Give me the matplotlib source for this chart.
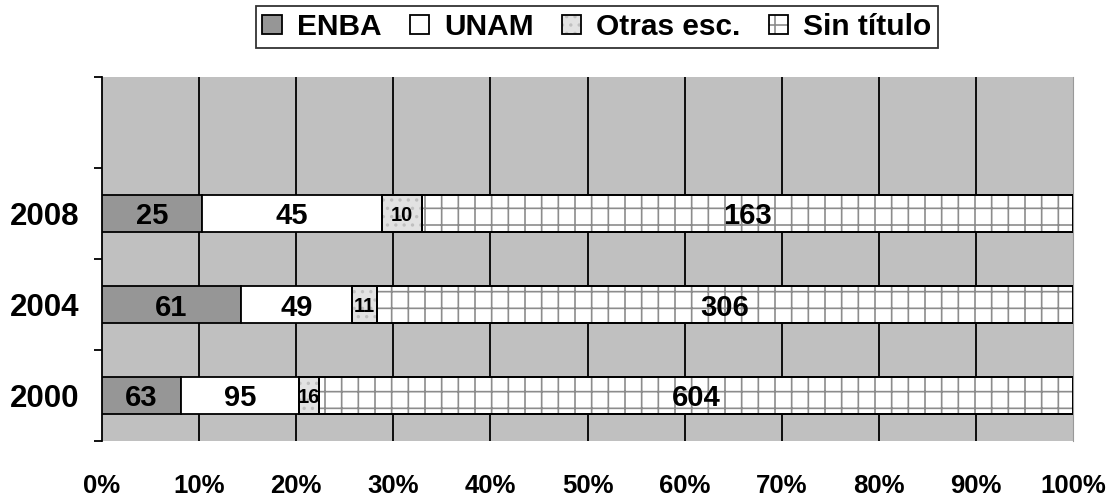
import numpy as np
import matplotlib
matplotlib.use("Agg")
import matplotlib.pyplot as plt

plt.rcParams['font.family'] = ['Liberation Sans', 'DejaVu Sans']
plt.rcParams['font.weight'] = 'bold'
plt.rcParams['hatch.linewidth'] = 1.2

# Data
years = ["2000", "2004", "2008"]
series = ["ENBA", "UNAM", "Otras esc.", "Sin título"]
enba = [63, 61, 25]
unam = [95, 49, 45]
otras = [16, 11, 10]
sin_titulo = [604, 306, 163]
x_ticks = ["0%", "10%", "20%", "30%", "40%", "50%", "60%", "70%", "80%", "90%", "100%"]

values = np.array([enba, unam, otras, sin_titulo], dtype=float)
totals = values.sum(axis=0)
shares = values / totals

faces = ["#969696", "white", "#e2e2e2", "white"]
hatches = [None, None, "..", "+"]
hatch_cols = [None, None, "#c0c0c0", "#8c8c8c"]
label_sizes = [21, 21, 14.5, 21]

fig = plt.figure(figsize=(11.15, 4.99), dpi=100)
ax = fig.add_axes([102 / 1115, 1 - 441 / 499, (1073 - 102) / 1115, (441 - 77) / 499])
ax.set_facecolor("#c0c0c0")

ypos = np.arange(len(years))
left = np.zeros(len(years))
handles = []
for i, name in enumerate(series):
    bars = ax.barh(ypos, shares[i], left=left, height=0.4, color=faces[i],
                   edgecolor="black", linewidth=1.3, label=name, zorder=3)
    if hatches[i]:
        for b in bars:
            b.set_hatch(hatches[i])
            b._hatch_color = matplotlib.colors.to_rgba(hatch_cols[i])
        # redraw edge on top of hatch
        ax.barh(ypos, shares[i], left=left, height=0.4, color="none",
                edgecolor="black", linewidth=1.3, zorder=4)
    handles.append(bars)
    for j in range(len(years)):
        ax.text(left[j] + shares[i][j] / 2, ypos[j], str(int(values[i][j])),
                ha="center", va="center_baseline", fontsize=label_sizes[i],
                fontweight="bold", zorder=5)
    left += shares[i]

ax.set_xlim(0, 1)
ax.set_ylim(-0.5, 3.5)
for gx in np.arange(0.1, 1.0, 0.1):
    ax.axvline(gx, color="black", linewidth=1.3, zorder=1)

ax.set_xticks(np.linspace(0, 1, 11))
ax.set_xticklabels(x_ticks, fontsize=18.5, fontweight="bold")
ax.tick_params(axis="x", length=0, pad=24)

ax.set_yticks(ypos)
ax.set_yticklabels(years, fontsize=22.5, fontweight="bold")
ax.tick_params(axis="y", which="major", length=0, pad=16)
ax.set_yticks(np.arange(-0.5, 4.0, 1.0), minor=True)
ax.tick_params(axis="y", which="minor", length=6, width=1.3, direction="out")

ax.spines["top"].set_visible(False)
ax.spines["bottom"].set_visible(False)
ax.spines["right"].set_color("#999999")
ax.spines["left"].set_linewidth(1.3)

leg = fig.legend(handles=handles, labels=series, loc="center",
                 bbox_to_anchor=(597 / 1115, 1 - 27 / 499), ncol=4,
                 frameon=True, fancybox=False, edgecolor="black",
                 prop={"size": 21.5, "weight": "bold"}, handlelength=0.65,
                 handleheight=0.65, handletextpad=0.5, columnspacing=0.95,
                 borderpad=0.22, borderaxespad=0)
leg.get_frame().set_linewidth(1.3)

plt.savefig("out.png", dpi=100)
